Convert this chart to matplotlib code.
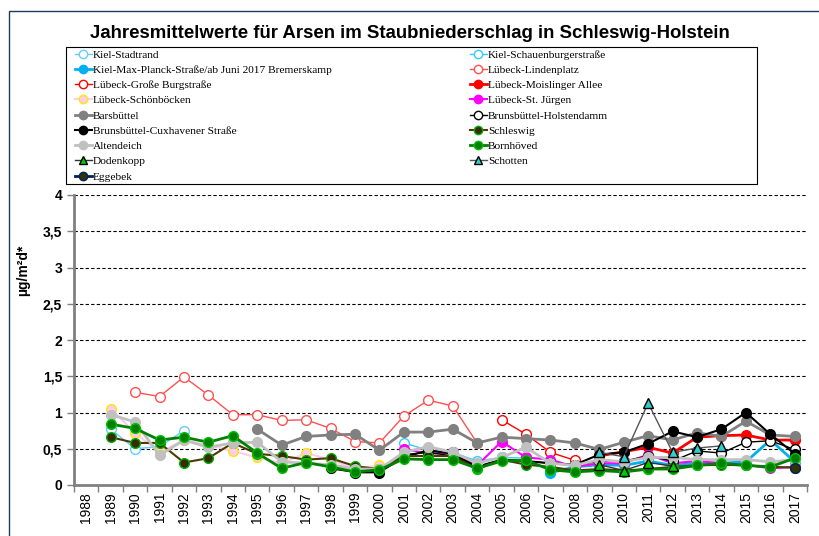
import numpy as np
import matplotlib
matplotlib.use("Agg")
import matplotlib.pyplot as plt
from matplotlib.lines import Line2D
from matplotlib.patches import Rectangle

years = list(range(1988, 2018))

# (start year, values)
kiel_stadtrand = (1989, [0.77, 0.50, 0.53, 0.75])
kiel_schauenburger = (2001, [0.58, 0.48, 0.45, 0.33, 0.38, 0.37])
kiel_max_planck = (2007, [0.17, 0.25, 0.28, 0.27, 0.33, 0.27, 0.30, 0.30, 0.32, 0.62, 0.32])
luebeck_lindenplatz = (1990, [1.28, 1.22, 1.49, 1.24, 0.97, 0.97, 0.89, 0.90, 0.78, 0.60,
                              0.58, 0.95, 1.17, 1.09, 0.58])
luebeck_burgstrasse = (2005, [0.90, 0.70, 0.45, 0.34])
luebeck_moislinger = (2009, [0.40, 0.46, 0.52, 0.44, 0.66, 0.68, 0.69, 0.62, 0.62])
luebeck_schoenboecken = (1989, [1.05, 0.72, 0.45, 0.62, 0.55, 0.47, 0.38, 0.30, 0.44, 0.35,
                                0.22, 0.27])
luebeck_st_juergen = (2001, [0.50, 0.43, 0.45, 0.27, 0.60, 0.38, 0.35, 0.25, 0.30, 0.30,
                             0.42, 0.30, 0.33, 0.30, 0.28, 0.23, 0.25])
barsbuettel = (1995, [0.77, 0.55, 0.67, 0.69, 0.70, 0.48, 0.73, 0.73, 0.77, 0.58, 0.66, 0.64,
                      0.62, 0.58, 0.49, 0.59, 0.68, 0.62, 0.72, 0.67, 0.88, 0.69, 0.67])
brunsb_holstendamm = (1998, [0.25, 0.17, 0.17, 0.42, 0.45, 0.40, 0.25, 0.35, 0.33, 0.30,
                             0.27, 0.33, 0.33, 0.40, 0.33, 0.47, 0.44, 0.59, 0.61, 0.49])
brunsb_cuxhavener = (1998, [0.23, 0.18, 0.18, 0.38, 0.48, 0.43, 0.25, 0.35, 0.33, 0.30,
                            0.28, 0.42, 0.45, 0.57, 0.74, 0.66, 0.77, 1.00, 0.70, 0.43])
schleswig = (1989, [0.66, 0.58, 0.58, 0.31, 0.37, 0.58, 0.43, 0.40, 0.35, 0.37, 0.26, 0.22,
                    0.40, 0.40, 0.40, 0.22, 0.35, 0.28, 0.25, 0.20, 0.22, 0.20, 0.22, 0.25,
                    0.27, 0.28, 0.27, 0.25, 0.24])
altendeich = (1989, [0.97, 0.87, 0.41, 0.62, 0.52, 0.58, 0.59, 0.32, 0.30, 0.28, 0.22, 0.22,
                     0.45, 0.53, 0.45, 0.30, 0.38, 0.52, 0.30, 0.27, 0.35, 0.32, 0.38, 0.38,
                     0.35, 0.35, 0.35, 0.32, 0.35])
bornhoeved = (1989, [0.84, 0.78, 0.62, 0.66, 0.59, 0.68, 0.44, 0.23, 0.31, 0.25, 0.18, 0.21,
                     0.36, 0.35, 0.35, 0.23, 0.33, 0.34, 0.21, 0.18, 0.20, 0.18, 0.22, 0.22,
                     0.27, 0.30, 0.27, 0.25, 0.37])
dodenkopp = (2009, [0.28, 0.20, 0.31, 0.26])
schotten = (2009, [0.45, 0.39, 1.13, 0.45, 0.51, 0.54])
eggebek = (2017, [0.23])

# label, data, line colour, line width, marker, face, edge
series = [
    ("Kiel-Stadtrand", kiel_stadtrand, "#66CCFF", 1.0, "o", "white", "#66CCFF"),
    ("Kiel-Schauenburgerstraße", kiel_schauenburger, "#33CCFF", 1.0, "o", "white", "#33CCFF"),
    ("Kiel-Max-Planck-Straße/ab Juni 2017 Bremerskamp", kiel_max_planck, "#00B0F0", 2.0, "o", "#00B0F0", "#00B0F0"),
    ("Lübeck-Lindenplatz", luebeck_lindenplatz, "#FF5050", 1.0, "o", "white", "#FF5050"),
    ("Lübeck-Große Burgstraße", luebeck_burgstrasse, "#FF0000", 1.0, "o", "white", "#FF0000"),
    ("Lübeck-Moislinger Allee", luebeck_moislinger, "#FF0000", 2.0, "o", "#FF0000", "#FF0000"),
    ("Lübeck-Schönböcken", luebeck_schoenboecken, "#FFCCEE", 1.5, "o", "#FFCCEE", "#FFE600"),
    ("Lübeck-St. Jürgen", luebeck_st_juergen, "#FF00FF", 1.5, "o", "#FF00FF", "#FF00FF"),
    ("Barsbüttel", barsbuettel, "#808080", 2.0, "o", "#808080", "#808080"),
    ("Brunsbüttel-Holstendamm", brunsb_holstendamm, "#000000", 1.0, "o", "white", "#000000"),
    ("Brunsbüttel-Cuxhavener Straße", brunsb_cuxhavener, "#000000", 1.5, "o", "#000000", "#000000"),
    ("Schleswig", schleswig, "#4D3A00", 1.5, "o", "#3A2A00", "#00B000"),
    ("Altendeich", altendeich, "#C0C0C0", 2.0, "o", "#C0C0C0", "#C0C0C0"),
    ("Bornhöved", bornhoeved, "#008000", 2.0, "o", "#008000", "#00C000"),
    ("Dodenkopp", dodenkopp, "#333333", 1.0, "^", "#00CC00", "#000000"),
    ("Schotten", schotten, "#555555", 1.0, "^", "#33CCCC", "#000000"),
    ("Eggebek", eggebek, "#002060", 2.0, "o", "#333300", "#002060"),
]


def full_row(data):
    start, vals = data
    row = np.full(len(years), np.nan)
    i = years.index(start)
    row[i:i + len(vals)] = vals
    return row


fig = plt.figure(figsize=(8.2, 5.36), dpi=100)
fig.patches.append(Rectangle((9 / 820, 0 - 0.1), 1.2, 1 - 11 / 536 + 0.1, transform=fig.transFigure,
                             fill=False, edgecolor="#1F3864", linewidth=1.0))
# legend frame
fig.patches.append(Rectangle((66 / 820, 1 - 184 / 536), 691 / 820, 137 / 536, transform=fig.transFigure,
                             fill=False, edgecolor="black", linewidth=0.8))
ax = fig.add_axes([74 / 820, 1 - 485 / 536, (807 - 74) / 820, (485 - 195) / 536])

x = np.arange(len(years))
handles = []
for label, data, lc, lw, mk, fc, ec in series:
    ax.plot(x, full_row(data), color=lc, linewidth=lw, marker=mk, markersize=7,
            markerfacecolor=fc, markeredgecolor=ec, markeredgewidth=1.0, clip_on=False)
    handles.append(Line2D([], [], color=lc, linewidth=lw, marker=mk, markersize=6,
                          markerfacecolor=fc, markeredgecolor=ec, markeredgewidth=1.0))

ax.set_xlim(-0.5, len(years) - 0.5)
ax.set_ylim(0, 4)
ax.set_yticks(np.arange(0, 4.01, 0.5))
ax.set_yticklabels(["0", "0,5", "1", "1,5", "2", "2,5", "3", "3,5", "4"],
                   fontweight="bold", fontsize=10, family="Liberation Sans")
ax.set_xticks(x)
ax.set_xticklabels([str(y) for y in years], rotation=90, fontsize=10, family="Liberation Sans")
ax.set_xticks(np.arange(-0.5, len(years)), minor=True)
ax.tick_params(axis="x", which="major", length=0, pad=5)
ax.tick_params(axis="x", which="minor", length=5, width=1, color="#808080", direction="out")
ax.tick_params(axis="y", length=5, width=1, color="#808080", direction="out")
for yv in np.arange(0.5, 4.01, 0.5):
    ax.axhline(yv, color="black", linestyle=(0, (3, 2)), linewidth=0.8, zorder=0)
for s in ["top", "right"]:
    ax.spines[s].set_visible(False)
for s in ["left", "bottom"]:
    ax.spines[s].set_color("#808080")
    ax.spines[s].set_linewidth(2)
ax.set_ylabel("µg/m²d*", fontweight="bold", fontsize=10, family="Liberation Sans")
ax.yaxis.set_label_coords(-0.06, 0.74)

fig.text(0.5, 1 - 33 / 536, "Jahresmittelwerte für Arsen im Staubniederschlag in Schleswig-Holstein",
         ha="center", va="center", fontsize=13.4, fontweight="bold", family="Liberation Sans")

labels = [s[0] for s in series]
order = list(range(0, len(series), 2)) + list(range(1, len(series), 2))
leg = fig.legend([handles[i] for i in order], [labels[i] for i in order],
                 loc="upper left", bbox_to_anchor=(72 / 820, 1 - 47 / 536),
                 ncol=2, frameon=False,
                 prop={"family": "Liberation Serif", "size": 8.2}, handlelength=1.5,
                 handletextpad=0.1, labelspacing=0.46, borderaxespad=0, borderpad=0.25,
                 columnspacing=12.1)

fig.savefig("out.png", dpi=100)
